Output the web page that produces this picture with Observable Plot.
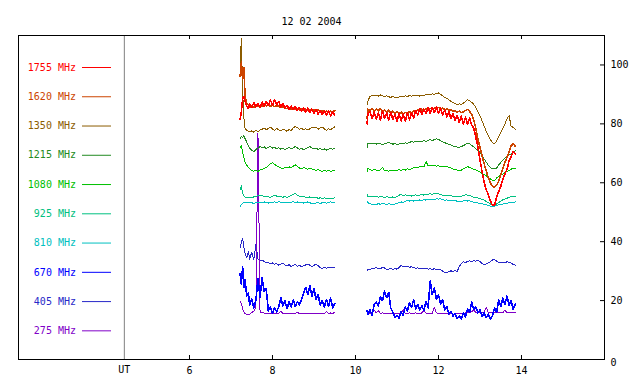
<!DOCTYPE html>
<html><head><meta charset="utf-8">
<script src="https://cdn.jsdelivr.net/npm/d3@7"></script>
<script src="https://cdn.jsdelivr.net/npm/@observablehq/plot@0.6"></script>
<style>html,body{margin:0;padding:0;background:#fff;}</style>
</head><body><div id="chart"></div>
<script>
const title = "12 02 2004";
const freqNames = ["1755 MHz","1620 MHz","1350 MHz","1215 MHz","1080 MHz","925 MHz","810 MHz","670 MHz","405 MHz","275 MHz"];
const freqColors = ["#ff0000","#cc4400","#8c5c00","#228b22","#00c000","#00c080","#00c0c0","#0000ff","#2828c8","#8000c8"];
const xTicks = [6,8,10,12,14];
const yTicks = [0,20,40,60,80,100];
const utLabel = "UT";
const utMark = 4.43;

// time (UT hours) of the two observing segments
const t1 = [7.22,7.25,7.28,7.31,7.34,7.38,7.42,7.45,7.50,7.55,7.60,7.65,7.70,7.75,7.80,7.85,7.90,7.95,8.00,8.05,8.10,8.15,8.20,8.25,8.30,8.35,8.40,8.45,8.50,8.55,8.60,8.65,8.70,8.75,8.80,8.85,8.90,8.95,9.00,9.05,9.10,9.15,9.20,9.25,9.30,9.35,9.40,9.45,9.50];
const t2 = [10.28,10.30,10.35,10.40,10.45,10.50,10.55,10.60,10.65,10.70,10.75,10.80,10.85,10.90,10.95,11.00,11.05,11.10,11.15,11.20,11.25,11.30,11.35,11.40,11.45,11.50,11.55,11.60,11.65,11.70,11.75,11.80,11.85,11.90,11.95,12.00,12.05,12.10,12.15,12.20,12.25,12.30,12.35,12.40,12.45,12.50,12.55,12.60,12.65,12.70,12.75,12.80,12.85,12.90,12.95,13.00,13.05,13.10,13.15,13.20,13.25,13.30,13.35,13.40,13.45,13.50,13.55,13.60,13.65,13.70,13.75,13.80,13.85];

const f1755a = [81.5,84,88.5,89.2,87.5,86,85.2,86.8,85.5,87.2,85.8,86.9,85.6,87.4,86.0,87.6,86.2,88.0,86.4,88.3,86.5,87.6,85.8,86.9,85.4,86.3,84.9,86.0,84.8,85.9,84.5,85.6,84.2,85.4,84.0,85.3,83.8,85.0,83.6,84.9,83.3,84.6,83.2,84.5,82.9,84.3,82.7,84.1,83.0];
const f1755b = [80.0,83.5,84.2,81.8,84.0,81.6,83.8,81.4,84.3,81.9,83.6,81.2,83.9,81.5,83.2,80.8,83.5,81.0,83.3,80.9,83.6,81.4,83.8,82.0,84.6,83.0,85.2,83.2,85.0,83.4,85.4,83.6,85.6,83.8,85.9,83.5,85.3,83.0,84.8,82.4,84.2,81.8,83.6,81.2,82.9,80.4,82.6,80.0,82.3,79.8,82.0,79.6,78.5,75.5,72.0,67.8,63.8,60.2,57.6,56.0,53.9,52.3,52.4,55.0,57.0,58.8,61.2,63.0,64.5,67.4,68.8,70.6,69.8];
const f1620a = [96,101,95,99,89,87,86.5,85.5,86,85.6,86.2,85.8,86.3,86.0,86.4,86.1,86.5,86.0,86.3,85.9,86.2,86.0,85.6,85.8,85.4,85.2,85.5,85.0,85.3,84.9,85.2,84.8,85.1,84.6,85.0,84.7,84.9,84.5,84.8,84.4,84.7,84.2,84.6,84.0,84.4,83.8,84.3,84.0,84.5];
const f1620b = [82.0,85.0,84.6,85.3,84.2,85.0,84.4,85.2,84.0,84.8,83.9,84.6,83.7,84.3,83.5,84.1,83.4,84.0,83.3,83.9,83.5,84.2,83.8,84.5,84.1,84.8,84.3,85.0,84.5,85.1,84.6,85.3,84.8,85.4,85.0,85.6,85.1,85.4,84.8,85.1,84.5,84.8,84.2,84.5,84.0,84.3,83.8,84.1,84.5,84.9,84.3,83.2,81.3,78.4,74.9,72.0,69.2,66.5,64.0,61.8,60.0,58.8,58.5,59.2,60.6,62.6,64.8,66.8,68.6,70.5,72.6,73.2,72.4];
const f1350a = [100,109,91,82,78.3,77.8,77.5,77.3,77.6,77.2,77.8,77.4,77.9,78.2,78.6,78.0,78.4,78.9,78.2,77.8,78.5,78.0,77.6,78.3,77.9,77.5,78.1,77.7,78.6,79.1,78.7,78.2,78.5,78.0,78.4,77.9,78.3,78.8,78.6,78.9,78.2,78.6,78.9,78.3,77.8,78.4,78.0,78.5,79.0];
const f1350b = [86.5,87.8,89.4,89.6,89.5,89.7,89.4,89.8,89.5,89.3,89.6,89.2,89.0,89.3,89.0,88.9,89.1,89.4,89.2,89.5,89.3,89.6,89.4,89.7,89.5,89.7,89.4,89.8,89.6,89.9,90.1,89.8,90.2,90.0,90.4,90.5,90.0,89.6,89.0,88.7,88.2,87.6,87.3,86.9,86.6,86.8,86.5,87.0,87.6,88.2,87.9,87.3,86.6,85.6,84.2,82.7,81.0,79.3,77.4,75.9,74.7,73.6,73.3,74.2,75.6,77.0,78.5,80.0,81.6,82.8,79.2,78.8,78.2];
const f1215a = [75.0,75.8,75.2,76.0,75.0,73.8,72.5,71.8,71.0,70.6,71.3,71.8,72.3,71.9,72.2,71.6,72.0,72.4,71.8,72.1,71.5,71.9,71.4,71.8,71.3,71.6,72.0,71.5,71.9,72.3,71.8,71.4,71.7,71.2,71.6,71.9,72.3,71.8,71.4,71.8,71.3,71.6,71.2,71.5,71.1,71.4,71.7,71.3,71.8];
const f1215b = [72.0,73.3,73.5,73.2,73.4,73.1,73.5,73.3,73.0,73.2,73.5,73.8,73.4,73.1,73.3,73.0,73.2,73.5,73.3,73.6,73.4,73.7,74.0,73.8,74.1,73.9,74.2,74.0,74.3,74.1,74.4,74.6,74.3,74.7,74.9,74.8,74.3,73.9,73.6,73.3,73.0,72.8,72.5,72.3,72.1,72.0,72.3,72.6,73.0,73.4,73.2,72.7,72.2,71.6,71.0,70.4,69.3,68.1,67.0,66.0,65.2,64.8,64.7,65.0,66.0,66.9,67.6,68.3,69.1,69.5,69.8,70.5,70.8];
const f1080a = [71.8,72.5,70.5,68.5,67.0,66.0,65.2,64.8,64.2,63.9,64.3,63.8,64.4,64.6,64.9,65.2,65.8,66.4,66.8,66.2,65.8,65.4,65.0,64.8,65.3,65.0,65.4,65.1,65.6,66.1,65.5,65.0,64.8,65.2,64.9,64.6,65.0,64.7,64.5,64.2,64.6,64.1,63.8,64.2,63.9,64.3,63.8,64.1,64.3];
const f1080b = [63.8,64.8,64.5,64.2,64.6,64.3,64.0,64.4,65.2,64.1,64.3,63.9,64.2,64.0,64.3,64.1,64.5,64.2,64.6,64.3,64.7,64.5,64.8,65.1,65.3,65.2,65.5,65.7,65.4,67.2,65.8,66.0,65.7,65.9,65.6,65.8,65.5,65.7,65.4,65.6,65.2,65.0,64.7,64.5,64.3,64.1,64.3,64.7,65.1,65.5,65.2,64.9,64.6,64.4,64.0,63.6,63.2,62.8,62.4,61.8,61.3,60.9,60.8,61.6,62.2,62.6,63.0,63.4,63.9,64.2,64.6,65.0,64.8];
const f925a = [57.5,59.0,56.5,55.6,55.2,55.0,55.1,54.9,55.0,55.2,55.4,55.6,55.8,55.6,55.3,55.5,55.2,55.0,55.4,55.7,55.5,55.2,55.4,55.1,55.3,55.0,55.4,55.7,56.0,56.4,55.8,55.4,55.2,55.5,55.1,54.9,55.2,55.0,54.8,55.1,54.7,54.9,54.6,54.9,54.7,54.5,54.8,54.6,54.9];
const f925b = [56.0,55.2,55.4,55.2,55.5,55.3,55.1,55.4,55.2,55.0,55.3,55.1,55.0,55.2,55.0,55.3,55.8,56.0,55.7,55.9,55.6,55.8,55.5,55.7,55.9,55.6,55.8,56.0,55.8,56.1,56.0,56.3,56.1,56.4,56.5,56.2,56.0,55.8,55.6,55.7,55.5,55.6,55.4,55.5,55.3,55.2,55.4,55.6,55.9,55.8,55.6,55.4,55.1,55.0,54.8,54.6,54.4,54.1,53.6,53.2,52.8,52.4,52.3,52.8,53.3,53.8,54.2,54.5,54.7,55.1,55.3,55.2,55.4];
const f810a = [52.0,52.6,53.0,53.3,53.1,53.3,53.2,53.4,53.2,53.0,53.3,53.1,53.4,53.2,53.5,53.3,53.1,53.4,53.2,53.5,53.3,53.6,53.4,53.2,53.5,53.3,53.1,53.4,53.6,53.3,53.5,53.2,53.4,53.1,53.3,53.5,53.2,53.0,52.8,53.1,53.3,53.0,53.2,53.4,53.1,53.3,53.5,53.2,53.4];
const f810b = [53.6,53.2,52.9,52.7,52.8,52.6,52.9,52.7,53.0,52.8,52.6,52.9,52.7,52.6,52.8,53.0,53.2,53.5,53.3,53.7,53.9,53.8,54.0,53.8,54.1,53.9,54.2,54.0,54.3,54.1,54.4,54.2,54.5,54.3,54.6,54.4,54.6,54.3,54.1,54.2,53.9,54.1,53.8,54.0,53.7,53.8,53.6,53.9,54.0,53.8,53.9,53.6,53.4,53.3,53.1,53.0,52.9,52.7,52.6,52.3,52.1,51.9,52.0,52.3,52.5,52.6,52.8,52.9,53.0,53.2,53.3,53.4,53.5];
const f670a = [29.0,25.5,31.5,24.5,27.0,21.5,22.5,18.5,20.5,17.5,20.0,27.5,21.0,27.8,23.0,24.0,16.5,17.8,15.8,17.5,16.2,17.8,21.0,18.2,20.0,17.2,19.5,17.8,20.2,18.0,19.6,18.5,20.5,22.5,24.5,22.0,25.0,21.5,24.0,20.5,22.0,18.5,20.0,17.8,20.4,18.0,20.8,17.5,19.0];
const f670b = [16.5,15.2,16.8,15.0,18.6,19.5,18.2,21.2,20.0,23.2,21.0,22.8,17.5,16.0,14.2,15.0,14.0,16.2,15.0,17.8,16.4,19.2,17.6,20.3,17.2,18.6,16.8,18.2,16.6,19.8,17.5,26.6,22.0,24.2,20.5,22.0,18.8,20.2,16.8,18.0,15.5,16.4,14.8,15.6,13.9,14.8,13.8,15.8,14.5,17.2,16.0,19.5,17.0,17.8,15.8,16.8,14.6,15.8,14.2,15.4,13.8,14.8,17.5,16.0,20.2,18.0,20.8,18.6,21.5,18.5,20.0,17.0,18.8];
const f405a = [38.0,39.5,41.2,38.0,36.0,34.5,36.8,34.0,36.5,33.8,39.0,34.2,33.6,33.8,33.2,32.8,33.0,32.5,32.8,32.3,32.6,32.0,32.4,32.7,32.1,31.8,32.2,31.6,31.9,32.3,31.7,32.0,31.5,31.8,32.1,32.4,32.0,31.6,32.0,32.3,31.9,31.2,30.9,31.4,31.0,31.3,31.1,31.4,31.2];
const f405b = [30.0,30.5,30.6,30.8,31.0,31.2,30.9,30.8,31.3,31.1,30.5,30.7,30.9,30.6,30.8,30.7,31.2,31.9,31.6,31.4,31.6,31.3,31.5,31.2,31.0,31.1,30.9,31.0,30.8,30.9,30.7,30.8,30.6,30.8,30.5,30.7,30.4,30.0,29.6,29.4,29.8,30.1,29.9,30.2,29.9,31.5,32.6,33.2,32.9,33.3,33.5,33.3,33.6,33.4,33.6,33.2,32.6,32.2,32.4,32.9,33.2,33.8,34.0,33.4,33.0,32.9,33.1,32.8,33.2,33.0,32.7,32.3,32.0];
const f275a = [19.8,19.0,17.2,16.2,15.6,15.3,15.2,15.4,16.0,16.3,17.8,77.0,16.2,15.9,15.8,15.6,15.7,15.6,15.8,15.6,15.7,15.6,16.4,15.6,15.7,15.6,15.6,15.7,15.6,15.6,16.0,15.6,15.5,15.6,15.5,15.6,15.5,15.6,15.5,15.6,15.8,15.6,15.5,15.6,16.2,15.6,15.8,15.7,15.9];
const f275b = [15.8,15.6,15.8,15.7,16.8,15.8,16.6,15.7,15.8,15.6,15.7,15.6,15.8,15.6,15.7,15.6,15.7,15.6,17.0,15.7,15.6,15.8,15.6,15.7,15.8,15.6,15.7,15.8,16.8,15.7,15.8,15.6,15.7,17.6,15.8,15.7,15.6,15.7,15.5,15.6,15.4,15.5,15.4,15.5,15.6,15.5,15.6,15.7,15.8,15.9,16.0,16.2,16.8,16.0,15.9,16.0,15.8,15.9,17.8,15.9,15.8,15.9,15.8,15.9,15.8,16.0,15.9,16.8,15.9,16.0,15.9,16.1,16.0];

const seriesVals = {
  "1755 MHz": [f1755a, f1755b], "1620 MHz": [f1620a, f1620b], "1350 MHz": [f1350a, f1350b],
  "1215 MHz": [f1215a, f1215b], "1080 MHz": [f1080a, f1080b], "925 MHz": [f925a, f925b],
  "810 MHz": [f810a, f810b], "670 MHz": [f670a, f670b], "405 MHz": [f405a, f405b], "275 MHz": [f275a, f275b]
};
const drawOrder = ["670 MHz","405 MHz","275 MHz","810 MHz","925 MHz","1080 MHz","1215 MHz","1350 MHz","1620 MHz","1755 MHz"];
const noisy = new Set(["670 MHz","1755 MHz","1620 MHz"]);

const rows = [];
for (const name of drawOrder) {
  const [a, b] = seriesVals[name];
  t1.forEach((t, i) => rows.push({name, key: name + "|1", t, v: a[i]}));
  t2.forEach((t, i) => rows.push({name, key: name + "|2", t, v: b[i]}));
}

const W = 640, H = 384, mL = 18, mR = 36, mT = 35, mB = 25;
const plotW = W - mL - mR, plotH = H - mT - mB;
const yMax = 110;
// legend rows stacked down the left part of the frame
const legend = freqNames.map((name, i) => ({name, ly: yMax * (1 - (32 + 29.26 * i) / plotH)}));

const chart = Plot.plot({
  width: W, height: H,
  marginLeft: mL, marginRight: mR, marginTop: mT, marginBottom: mB,
  x: {domain: [1.88, 16], axis: null},
  y: {domain: [0, yMax], axis: null},
  color: {domain: freqNames, range: freqColors},
  style: {fontFamily: "'DejaVu Sans Mono', monospace", fontSize: "10px", background: "white", color: "black"},
  marks: [
    Plot.ruleX([utMark], {stroke: "#808080"}),
    Plot.line(rows.filter(d => !noisy.has(d.name)), {x: "t", y: "v", z: "key", stroke: "name", strokeWidth: 1, shapeRendering: "crispEdges"}),
    Plot.line(rows.filter(d => noisy.has(d.name)), {x: "t", y: "v", z: "key", stroke: "name", strokeWidth: 1.6, shapeRendering: "crispEdges"}),
    Plot.frame({stroke: "black"}),
    Plot.ruleX(xTicks, {insetTop: plotH - 4, stroke: "black"}),
    Plot.ruleX(xTicks, {insetBottom: plotH - 4, stroke: "black"}),
    Plot.ruleY(yTicks, {insetLeft: plotW - 4, stroke: "black"}),
    Plot.text(xTicks, {x: d => d, frameAnchor: "bottom", dy: 14, text: d => String(d), fill: "black"}),
    Plot.text([utLabel], {x: utMark, frameAnchor: "bottom", dy: 13, fill: "black"}),
    Plot.text(yTicks.filter(d => d > 0), {y: d => d, frameAnchor: "right", dx: 6, textAnchor: "start", text: d => String(d), fill: "black"}),
    Plot.text(yTicks.filter(d => d === 0), {y: d => d, frameAnchor: "right", dx: 6, dy: 3, textAnchor: "start", text: d => String(d), fill: "black"}),
    Plot.text([title], {frameAnchor: "top", dy: -17.5, fill: "black"}),
    Plot.text(legend, {y: "ly", frameAnchor: "left", dx: 57.5, textAnchor: "end", fill: "name", text: "name"}),
    Plot.ruleY(legend, {y: "ly", stroke: "name", insetLeft: 64, insetRight: plotW - 93})
  ]
});
document.getElementById("chart").appendChild(chart);
</script>
</body></html>
